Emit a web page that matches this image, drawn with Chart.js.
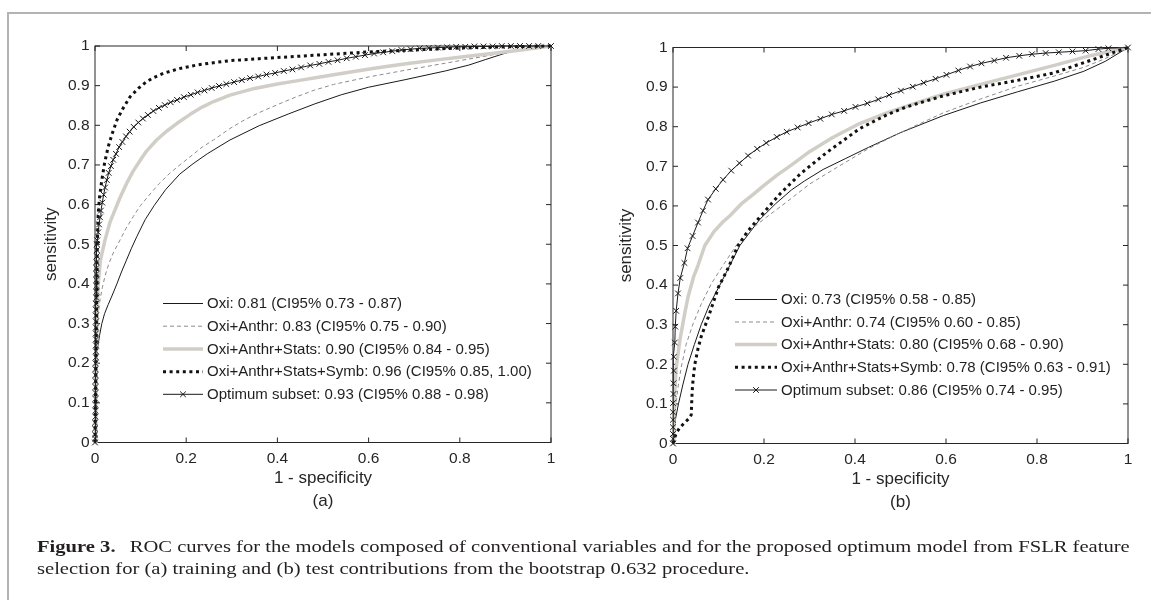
<!DOCTYPE html>
<html><head><meta charset="utf-8">
<script src="https://cdn.jsdelivr.net/npm/chart.js@4.4.1/dist/chart.umd.min.js"></script>
<style>
html,body{margin:0;padding:0;background:#fff;}
body{width:1151px;height:600px;position:relative;overflow:hidden;}
#frame{position:absolute;left:7px;top:12px;width:1150px;height:600px;border-top:2px solid #b3b3b3;border-left:2px solid #b3b3b3;}
#cA{position:absolute;left:0;top:0;}
#cB{position:absolute;left:578px;top:0;}
.cap{position:absolute;left:37px;font-family:'Liberation Serif','Times New Roman',serif;font-size:17.5px;line-height:22px;color:#231f20;white-space:nowrap;transform-origin:0 0;}
</style></head><body>
<div id="frame"></div>
<canvas id="cA" width="580" height="545"></canvas>
<canvas id="cB" width="573" height="545"></canvas>
<div class="cap" id="cap1" style="top:535px"><b>Figure 3.</b><span style="margin-left:12px">ROC curves for the models composed of conventional variables and for the proposed optimum model from FSLR feature</span></div>
<div class="cap" id="cap2" style="top:557px">selection for (a) training and (b) test contributions from the bootstrap 0.632 procedure.</div>
<script>
// ---------- data ----------
const xTickValues = [0, 0.2, 0.4, 0.6, 0.8, 1];
const xTickLabels = ['0', '0.2', '0.4', '0.6', '0.8', '1'];
const yTickValues = [0, 0.1, 0.2, 0.3, 0.4, 0.5, 0.6, 0.7, 0.8, 0.9, 1];
const yTickLabels = ['0', '0.1', '0.2', '0.3', '0.4', '0.5', '0.6', '0.7', '0.8', '0.9', '1'];

const trainLabels = [
  'Oxi: 0.81 (CI95% 0.73 - 0.87)',
  'Oxi+Anthr: 0.83 (CI95% 0.75 - 0.90)',
  'Oxi+Anthr+Stats: 0.90 (CI95% 0.84 - 0.95)',
  'Oxi+Anthr+Stats+Symb: 0.96 (CI95% 0.85, 1.00)',
  'Optimum subset: 0.93 (CI95% 0.88 - 0.98)'
];
const testLabels = [
  'Oxi: 0.73 (CI95% 0.58 - 0.85)',
  'Oxi+Anthr: 0.74 (CI95% 0.60 - 0.85)',
  'Oxi+Anthr+Stats: 0.80 (CI95% 0.68 - 0.90)',
  'Oxi+Anthr+Stats+Symb: 0.78 (CI95% 0.63 - 0.91)',
  'Optimum subset: 0.86 (CI95% 0.74 - 0.95)'
];

// (a) training  [1-specificity, sensitivity]
const trainOxi = [[0,0],[0.001,0.06],[0.002,0.12],[0.002,0.18],[0.003,0.21],[0.006,0.24],[0.01,0.27],[0.015,0.3],[0.021,0.325],[0.029,0.348],[0.038,0.372],[0.048,0.4],[0.058,0.43],[0.069,0.46],[0.08,0.49],[0.092,0.52],[0.11,0.562],[0.13,0.598],[0.155,0.638],[0.186,0.677],[0.215,0.703],[0.246,0.728],[0.296,0.763],[0.36,0.799],[0.425,0.829],[0.482,0.854],[0.54,0.877],[0.6,0.896],[0.68,0.915],[0.768,0.937],[0.82,0.952],[0.857,0.966],[0.9,0.982],[0.963,0.998],[1,1]];
const trainAnthr = [[0,0],[0.001,0.08],[0.002,0.16],[0.003,0.23],[0.005,0.29],[0.008,0.33],[0.011,0.36],[0.016,0.39],[0.022,0.42],[0.03,0.45],[0.04,0.478],[0.055,0.511],[0.068,0.54],[0.084,0.57],[0.1,0.598],[0.121,0.627],[0.14,0.652],[0.164,0.679],[0.186,0.7],[0.208,0.72],[0.235,0.745],[0.26,0.763],[0.296,0.792],[0.33,0.815],[0.36,0.832],[0.4,0.852],[0.442,0.872],[0.482,0.889],[0.523,0.903],[0.6,0.922],[0.686,0.94],[0.77,0.957],[0.849,0.973],[0.92,0.988],[1,1]];
const trainStats = [[0,0],[0.002,0.15],[0.004,0.3],[0.007,0.4],[0.012,0.46],[0.022,0.511],[0.033,0.556],[0.045,0.59],[0.055,0.618],[0.07,0.655],[0.084,0.685],[0.1,0.713],[0.113,0.735],[0.135,0.763],[0.157,0.785],[0.18,0.805],[0.208,0.827],[0.235,0.846],[0.26,0.86],[0.296,0.876],[0.35,0.893],[0.4,0.904],[0.442,0.912],[0.5,0.923],[0.564,0.935],[0.62,0.945],[0.686,0.956],[0.75,0.965],[0.808,0.973],[0.87,0.981],[0.93,0.989],[1,1]];
const trainSymb = [[0,0],[0.001,0.1],[0.002,0.2],[0.003,0.3],[0.004,0.4],[0.005,0.5],[0.007,0.578],[0.01,0.62],[0.015,0.662],[0.021,0.705],[0.029,0.746],[0.038,0.78],[0.048,0.813],[0.06,0.84],[0.077,0.872],[0.095,0.893],[0.113,0.91],[0.13,0.921],[0.15,0.931],[0.185,0.943],[0.223,0.952],[0.26,0.958],[0.296,0.963],[0.36,0.968],[0.43,0.973],[0.5,0.978],[0.6,0.985],[0.7,0.99],[0.8,0.995],[0.9,0.998],[1,1]];
const trainOptimum = [[0,0],[0,0.01],[0,0.02],[0,0.035],[0,0.05],[0.001,0.065],[0.001,0.08],[0.001,0.095],[0.001,0.11],[0.001,0.125],[0.001,0.14],[0.001,0.155],[0.001,0.17],[0.001,0.185],[0.001,0.2],[0.002,0.215],[0.002,0.23],[0.002,0.245],[0.002,0.26],[0.002,0.275],[0.002,0.29],[0.002,0.305],[0.002,0.32],[0.002,0.335],[0.002,0.35],[0.003,0.365],[0.003,0.38],[0.003,0.395],[0.003,0.41],[0.003,0.425],[0.003,0.44],[0.003,0.455],[0.004,0.47],[0.004,0.485],[0.004,0.5],[0.005,0.51],[0.007,0.53],[0.009,0.55],[0.011,0.568],[0.013,0.585],[0.016,0.605],[0.019,0.625],[0.022,0.643],[0.026,0.662],[0.03,0.68],[0.035,0.697],[0.04,0.713],[0.046,0.728],[0.053,0.745],[0.06,0.758],[0.068,0.772],[0.076,0.784],[0.085,0.796],[0.095,0.807],[0.105,0.817],[0.116,0.826],[0.128,0.836],[0.14,0.844],[0.153,0.851],[0.166,0.858],[0.18,0.864],[0.195,0.871],[0.21,0.877],[0.225,0.883],[0.24,0.888],[0.256,0.894],[0.272,0.899],[0.288,0.904],[0.305,0.909],[0.322,0.914],[0.34,0.919],[0.358,0.923],[0.376,0.928],[0.395,0.932],[0.414,0.937],[0.433,0.941],[0.452,0.946],[0.472,0.951],[0.492,0.955],[0.512,0.96],[0.532,0.964],[0.552,0.969],[0.572,0.973],[0.592,0.977],[0.612,0.981],[0.632,0.984],[0.652,0.987],[0.672,0.99],[0.692,0.992],[0.712,0.994],[0.732,0.995],[0.752,0.996],[0.772,0.997],[0.792,0.998],[0.812,0.998],[0.832,0.999],[0.852,0.999],[0.872,0.999],[0.892,1],[0.912,1],[0.932,1],[0.952,1],[0.972,1],[1,1]];

// (b) test
const testOxi = [[0,0],[0.002,0.03],[0.006,0.065],[0.012,0.1],[0.022,0.15],[0.033,0.2],[0.047,0.25],[0.062,0.3],[0.08,0.35],[0.103,0.4],[0.125,0.45],[0.147,0.5],[0.17,0.535],[0.19,0.565],[0.225,0.605],[0.26,0.64],[0.289,0.663],[0.33,0.692],[0.38,0.72],[0.43,0.748],[0.5,0.785],[0.594,0.828],[0.676,0.86],[0.757,0.888],[0.838,0.915],[0.903,0.94],[0.95,0.965],[1,1]];
const testAnthr = [[0,0],[0.002,0.04],[0.005,0.083],[0.011,0.142],[0.018,0.192],[0.029,0.251],[0.044,0.302],[0.062,0.352],[0.084,0.403],[0.11,0.45],[0.139,0.5],[0.17,0.54],[0.206,0.572],[0.25,0.61],[0.3,0.655],[0.36,0.697],[0.43,0.745],[0.5,0.785],[0.594,0.835],[0.676,0.87],[0.757,0.902],[0.838,0.928],[0.903,0.95],[0.95,0.972],[1,1]];
const testStats = [[0,0],[0.002,0.09],[0.007,0.192],[0.015,0.26],[0.026,0.33],[0.033,0.37],[0.045,0.42],[0.055,0.45],[0.07,0.5],[0.09,0.535],[0.11,0.56],[0.125,0.575],[0.15,0.605],[0.177,0.63],[0.2,0.652],[0.228,0.677],[0.26,0.703],[0.3,0.737],[0.35,0.772],[0.41,0.808],[0.47,0.835],[0.54,0.862],[0.6,0.884],[0.676,0.907],[0.757,0.931],[0.838,0.955],[0.919,0.98],[1,1]];
const testSymb = [[0,0],[0.004,0.016],[0.008,0.028],[0.015,0.04],[0.025,0.052],[0.035,0.063],[0.04,0.072],[0.041,0.1],[0.042,0.13],[0.044,0.16],[0.048,0.2],[0.055,0.24],[0.062,0.27],[0.08,0.327],[0.1,0.395],[0.12,0.44],[0.143,0.5],[0.165,0.537],[0.191,0.572],[0.235,0.63],[0.279,0.68],[0.338,0.735],[0.41,0.795],[0.47,0.83],[0.513,0.85],[0.594,0.878],[0.676,0.9],[0.757,0.917],[0.838,0.936],[0.878,0.952],[0.919,0.968],[1,1]];
const testOptimum = [[0,0],[0,0.012],[0,0.024],[0,0.041],[0,0.06],[0,0.079],[0,0.102],[0.001,0.125],[0.001,0.152],[0.002,0.184],[0.002,0.219],[0.004,0.255],[0.005,0.295],[0.007,0.335],[0.011,0.379],[0.016,0.418],[0.025,0.456],[0.032,0.493],[0.043,0.524],[0.055,0.558],[0.066,0.588],[0.077,0.616],[0.094,0.643],[0.11,0.666],[0.128,0.689],[0.146,0.708],[0.165,0.727],[0.185,0.744],[0.205,0.759],[0.228,0.774],[0.25,0.787],[0.274,0.798],[0.298,0.809],[0.324,0.82],[0.349,0.831],[0.376,0.84],[0.401,0.85],[0.427,0.859],[0.451,0.869],[0.475,0.88],[0.501,0.891],[0.527,0.901],[0.551,0.911],[0.577,0.921],[0.601,0.931],[0.627,0.942],[0.653,0.952],[0.678,0.96],[0.706,0.967],[0.732,0.974],[0.761,0.979],[0.789,0.983],[0.819,0.986],[0.848,0.988],[0.878,0.99],[0.907,0.992],[0.935,0.996],[0.957,0.998],[1,1]];

// ---------- styles ----------
const FONT = "'Liberation Sans', Arial, Helvetica, sans-serif";
const TXT = '#262626';
const styles = [
  {color:'#1a1a1a', width:1, dash:[], marker:false},
  {color:'#8c8c8c', width:1, dash:[4,3], marker:false},
  {color:'#d1cec7', width:3.5, dash:[], marker:false},
  {color:'#111111', width:3, dash:[3,3.6], marker:false},
  {color:'#1a1a1a', width:1, dash:[], marker:true}
];
const MARK_R = 4;

function drawCross(ctx, x, y, r) {
  const d = r * Math.SQRT1_2;
  ctx.beginPath();
  ctx.moveTo(x - d, y - d); ctx.lineTo(x + d, y + d);
  ctx.moveTo(x + d, y - d); ctx.lineTo(x - d, y + d);
  ctx.stroke();
}

const boxPlugin = {
  id: 'boxTicks',
  beforeDatasetsDraw(chart) {
    const {ctx, chartArea: a, scales: {x, y}} = chart;
    ctx.save();
    ctx.strokeStyle = TXT; ctx.lineWidth = 1; ctx.setLineDash([]);
    ctx.strokeRect(a.left, a.top, a.right - a.left, a.bottom - a.top);
    const L = 5;
    ctx.beginPath();
    xTickValues.forEach(v => {
      const px = x.getPixelForValue(v);
      ctx.moveTo(px, a.bottom); ctx.lineTo(px, a.bottom - L);
      ctx.moveTo(px, a.top); ctx.lineTo(px, a.top + L);
    });
    yTickValues.forEach(v => {
      const py = y.getPixelForValue(v);
      ctx.moveTo(a.left, py); ctx.lineTo(a.left + L, py);
      ctx.moveTo(a.right, py); ctx.lineTo(a.right - L, py);
    });
    ctx.stroke();
    ctx.restore();
  }
};

const legendPlugin = {
  id: 'innerLegend',
  afterDraw(chart) {
    const lg = chart.options.plugins.innerLegend;
    const ctx = chart.ctx;
    ctx.save();
    chart.data.datasets.forEach((ds, i) => {
      const st = styles[i];
      const yy = lg.rows[i];
      ctx.strokeStyle = st.color; ctx.lineWidth = st.width; ctx.setLineDash(st.dash); ctx.lineCap = 'butt';
      ctx.beginPath(); ctx.moveTo(lg.x0, yy); ctx.lineTo(lg.x1, yy); ctx.stroke();
      ctx.setLineDash([]);
      if (st.marker) { ctx.lineWidth = 1; drawCross(ctx, (lg.x0 + lg.x1) / 2, yy, MARK_R); }
      ctx.fillStyle = '#1f1f1f';
      ctx.font = '15px ' + FONT;
      ctx.textBaseline = 'middle'; ctx.textAlign = 'left';
      ctx.fillText(ds.label, lg.tx, yy + 0.5);
    });
    ctx.restore();
  }
};

function makeChart(id, series, labels, cfg) {
  const datasets = series.map((pts, i) => ({
    label: labels[i],
    data: pts.map(p => ({x: p[0], y: p[1]})),
    borderColor: styles[i].color,
    borderWidth: styles[i].width,
    borderDash: styles[i].dash,
    borderCapStyle: 'butt',
    borderJoinStyle: 'round',
    pointRadius: styles[i].marker ? MARK_R : 0,
    pointHoverRadius: 0,
    pointStyle: 'crossRot',
    pointBorderColor: '#1a1a1a',
    pointBorderWidth: 1,
    pointBackgroundColor: 'rgba(0,0,0,0)',
    tension: 0,
    fill: false,
    clip: false,
    order: 5 - i
  }));
  const canvas = document.getElementById(id);
  return new Chart(canvas, {
    type: 'line',
    data: {datasets},
    plugins: [boxPlugin, legendPlugin],
    options: {
      responsive: false,
      animation: false,
      devicePixelRatio: 1,
      layout: {padding: {left: 0, top: cfg.top, right: cfg.right, bottom: cfg.bottom}},
      plugins: {legend: {display: false}, tooltip: {enabled: false}, innerLegend: cfg.legend},
      scales: {
        x: {
          type: 'linear', min: 0, max: 1,
          afterBuildTicks: s => { s.ticks = xTickValues.map(v => ({value: v})); },
          afterFit: s => { s.height = 77; },
          ticks: {autoSkip: false, maxRotation: 0, padding: 7, color: TXT, font: {family: FONT, size: 15.5},
                  callback: (v, i) => xTickLabels[i]},
          grid: {display: false, drawTicks: false},
          border: {display: false},
          title: {display: true, text: ['1 - specificity', cfg.panel], color: TXT,
                  font: {family: FONT, size: 17, lineHeight: '23px'}, padding: {top: 0, bottom: 7}}
        },
        y: {
          type: 'linear', min: 0, max: 1,
          afterBuildTicks: s => { s.ticks = yTickValues.map(v => ({value: v})); },
          afterFit: s => { s.width = cfg.yw; },
          ticks: {autoSkip: false, padding: 5.5, color: TXT, font: {family: FONT, size: 15.5},
                  callback: (v, i) => yTickLabels[i]},
          grid: {display: false, drawTicks: false},
          border: {display: false},
          title: {display: true, text: 'sensitivity', color: TXT,
                  font: {family: FONT, size: 17, lineHeight: 1.2}, padding: {top: cfg.ytitle, bottom: 0}}
        }
      }
    }
  });
}

makeChart('cA', [trainOxi, trainAnthr, trainStats, trainSymb, trainOptimum], trainLabels, {
  panel: '(a)', top: 46, right: 29, bottom: 25.5, yw: 95, ytitle: 41.5,
  legend: {x0: 163, x1: 203, tx: 207, rows: [303.5, 326.2, 349, 371.7, 394.3]}
});
makeChart('cB', [testOxi, testAnthr, testStats, testSymb, testOptimum], testLabels, {
  panel: '(b)', top: 47.5, right: 23, bottom: 24.5, yw: 95, ytitle: 38.5,
  legend: {x0: 157, x1: 199, tx: 203, rows: [299.5, 322, 344.5, 367.3, 390]}
});

function fitCaption() {
  const c1 = document.getElementById('cap1');
  const c2 = document.getElementById('cap2');
  const w = c1.offsetWidth;
  const k = 1093 / w;
  c1.style.transform = 'scaleX(' + k + ')';
  c2.style.transform = 'scaleX(' + k + ')';
}
fitCaption();
if (document.fonts && document.fonts.ready) document.fonts.ready.then(fitCaption);
</script>
</body></html>
